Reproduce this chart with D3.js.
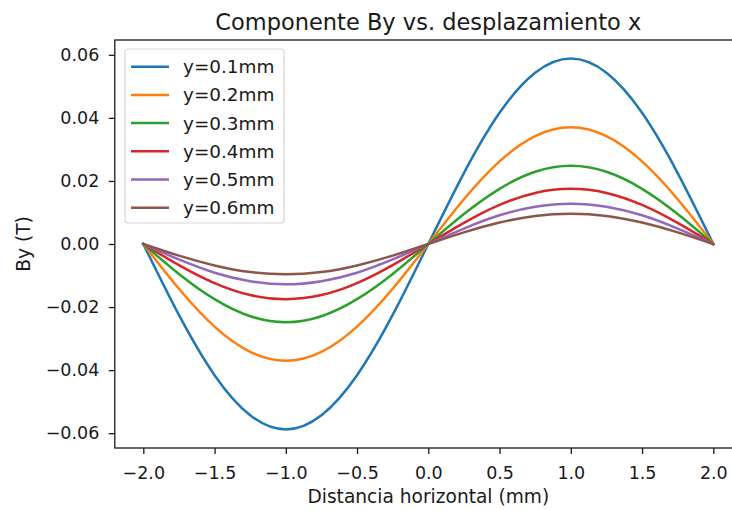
<!DOCTYPE html>
<html>
<head>
<meta charset="utf-8">
<script src="https://cdn.jsdelivr.net/npm/d3@7"></script>
<style>
  html, body { margin: 0; padding: 0; background: #fff; }
  svg { display: block; overflow: hidden; }
  text { font-family: "DejaVu Sans", sans-serif; fill: #1a1a1a; }
</style>
</head>
<body>
<svg id="chart" width="732" height="510"></svg>
<script>
// Horizontal positions (mm)
const xValues = [-2, -1.75, -1.5, -1.25, -1, -0.75, -0.5, -0.25, 0,
                 0.25, 0.5, 0.75, 1, 1.25, 1.5, 1.75, 2];

// By (T) at each position, one array per height y
const by01 = [0, -0.0225, -0.0416, -0.0543, -0.0588, -0.0543, -0.0416, -0.0225, 0,
              0.0225, 0.0416, 0.0543, 0.0588, 0.0543, 0.0416, 0.0225, 0];
const by02 = [0, -0.0142, -0.0262, -0.0342, -0.0370, -0.0342, -0.0262, -0.0142, 0,
              0.0142, 0.0262, 0.0342, 0.0370, 0.0342, 0.0262, 0.0142, 0];
const by03 = [0, -0.0095, -0.0175, -0.0229, -0.0248, -0.0229, -0.0175, -0.0095, 0,
              0.0095, 0.0175, 0.0229, 0.0248, 0.0229, 0.0175, 0.0095, 0];
const by04 = [0, -0.0067, -0.0124, -0.0162, -0.0175, -0.0162, -0.0124, -0.0067, 0,
              0.0067, 0.0124, 0.0162, 0.0175, 0.0162, 0.0124, 0.0067, 0];
const by05 = [0, -0.0049, -0.0091, -0.0118, -0.0128, -0.0118, -0.0091, -0.0049, 0,
              0.0049, 0.0091, 0.0118, 0.0128, 0.0118, 0.0091, 0.0049, 0];
const by06 = [0, -0.0037, -0.0068, -0.0089, -0.0096, -0.0089, -0.0068, -0.0037, 0,
              0.0037, 0.0068, 0.0089, 0.0096, 0.0089, 0.0068, 0.0037, 0];

const seriesLabels = ["y=0.1mm", "y=0.2mm", "y=0.3mm", "y=0.4mm", "y=0.5mm", "y=0.6mm"];
const seriesValues = [by01, by02, by03, by04, by05, by06];
const seriesColors = ["#1f77b4", "#ff7f0e", "#2ca02c", "#d62728", "#9467bd", "#8c564b"];

const xTicks = [-2.0, -1.5, -1.0, -0.5, 0.0, 0.5, 1.0, 1.5, 2.0];
const yTicks = [-0.06, -0.04, -0.02, 0.00, 0.02, 0.04, 0.06];

const titleText = "Componente By vs. desplazamiento x";
const xLabelText = "Distancia horizontal (mm)";
const yLabelText = "By (T)";

// Plot frame (the right spine sits just past the visible edge)
const frame = { left: 114.8, right: 741.8, top: 40, bottom: 448 };
const svg = d3.select("#chart");

const x = d3.scaleLinear().domain([-2.2, 2.2]).range([frame.left, frame.right]);
const y = d3.scaleLinear().domain([-0.0647, 0.0647]).range([frame.bottom, frame.top]);

const tickFont = 17.5;
const labelFont = 18.6;

// Curves
const line = d3.line()
  .x((d, i) => x(xValues[i]))
  .y(d => y(d))
  .curve(d3.curveNatural);

svg.append("g")
  .selectAll("path")
  .data(seriesValues)
  .join("path")
  .attr("d", d => line(d))
  .attr("fill", "none")
  .attr("stroke", (d, i) => seriesColors[i])
  .attr("stroke-width", 2.5)
  .attr("stroke-linejoin", "round")
  .attr("stroke-linecap", "square");

// Axes
const xAxis = d3.axisBottom(x).tickValues(xTicks).tickFormat(d3.format(".1f"))
  .tickSize(6).tickPadding(12.5);
const yAxis = d3.axisLeft(y).tickValues(yTicks).tickFormat(d3.format(".2f"))
  .tickSize(6).tickPadding(9.5);

const gx = svg.append("g").attr("transform", `translate(0,${frame.bottom})`).call(xAxis);
const gy = svg.append("g").attr("transform", `translate(${frame.left},0)`).call(yAxis);
[gx, gy].forEach(g => {
  g.select(".domain").remove();
  g.selectAll(".tick line").attr("stroke", "#1a1a1a").attr("stroke-width", 1.3);
  g.selectAll(".tick text").attr("font-size", tickFont)
    .attr("font-family", "DejaVu Sans").attr("fill", "#1a1a1a");
});

// Spines
svg.append("rect")
  .attr("x", frame.left).attr("y", frame.top)
  .attr("width", frame.right - frame.left).attr("height", frame.bottom - frame.top)
  .attr("fill", "none").attr("stroke", "#1a1a1a").attr("stroke-width", 1.3);

// Title and axis labels
const midX = (frame.left + frame.right) / 2;
svg.append("text")
  .attr("x", midX).attr("y", 30)
  .attr("text-anchor", "middle").attr("font-size", 22.5)
  .text(titleText);

svg.append("text")
  .attr("x", midX).attr("y", 503)
  .attr("text-anchor", "middle").attr("font-size", labelFont)
  .text(xLabelText);

svg.append("text")
  .attr("transform", `translate(30,${y(0)}) rotate(-90)`)
  .attr("text-anchor", "middle").attr("font-size", labelFont)
  .text(yLabelText);

// Legend
const legend = svg.append("g");
const legX = 125, legY = 49, legW = 159, legH = 174, rowH = 28.2;
legend.append("rect")
  .attr("x", legX).attr("y", legY).attr("width", legW).attr("height", legH)
  .attr("rx", 3).attr("fill", "#fff").attr("fill-opacity", 0.8)
  .attr("stroke", "#d5d5d5").attr("stroke-width", 1.2);

const rows = legend.selectAll("g.row")
  .data(seriesLabels)
  .join("g")
  .attr("class", "row")
  .attr("transform", (d, i) => `translate(0,${66.7 + i * rowH})`);

rows.append("line")
  .attr("x1", 131).attr("x2", 169).attr("y1", 0).attr("y2", 0)
  .attr("stroke", (d, i) => seriesColors[i]).attr("stroke-width", 2.5);

rows.append("text")
  .attr("x", 183).attr("y", 0).attr("dy", "0.35em")
  .attr("font-size", 18.4)
  .text(d => d);
</script>
</body>
</html>
